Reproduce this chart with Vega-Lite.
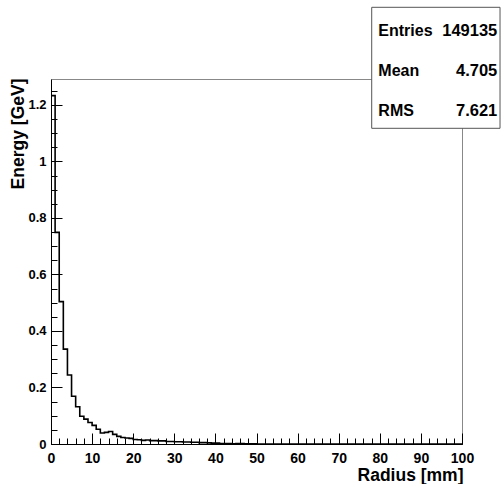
{
  "$schema": "https://vega.github.io/schema/vega-lite/v6.json",
  "width": 411,
  "height": 365,
  "autosize": {"type": "none"},
  "padding": {"left": 51, "top": 79, "right": 39, "bottom": 40},
  "background": "white",
  "config": {
    "view": {"stroke": "#888888", "strokeWidth": 1},
    "font": "Liberation Sans",
    "axis": {"grid": false, "domainColor": "black", "tickColor": "black", "labelColor": "black", "titleColor": "black", "labelFlush": false}
  },
  "datasets": {
    "hist": [
      {"radius": 0, "energy": 1.233}, {"radius": 1, "energy": 0.749}, {"radius": 2, "energy": 0.504}, {"radius": 3, "energy": 0.336},
      {"radius": 4, "energy": 0.244}, {"radius": 5, "energy": 0.169}, {"radius": 6, "energy": 0.132}, {"radius": 7, "energy": 0.098},
      {"radius": 8, "energy": 0.088}, {"radius": 9, "energy": 0.076}, {"radius": 10, "energy": 0.066}, {"radius": 11, "energy": 0.052},
      {"radius": 12, "energy": 0.039}, {"radius": 13, "energy": 0.041}, {"radius": 14, "energy": 0.044}, {"radius": 15, "energy": 0.034},
      {"radius": 16, "energy": 0.027}, {"radius": 17, "energy": 0.023}, {"radius": 18, "energy": 0.021}, {"radius": 19, "energy": 0.02},
      {"radius": 20, "energy": 0.016}, {"radius": 21, "energy": 0.015}, {"radius": 22, "energy": 0.013}, {"radius": 23, "energy": 0.014},
      {"radius": 24, "energy": 0.012}, {"radius": 25, "energy": 0.012}, {"radius": 26, "energy": 0.011}, {"radius": 27, "energy": 0.011},
      {"radius": 28, "energy": 0.009}, {"radius": 29, "energy": 0.009}, {"radius": 30, "energy": 0.008}, {"radius": 31, "energy": 0.008},
      {"radius": 32, "energy": 0.007}, {"radius": 33, "energy": 0.007}, {"radius": 34, "energy": 0.006}, {"radius": 35, "energy": 0.006},
      {"radius": 36, "energy": 0.005}, {"radius": 37, "energy": 0.005}, {"radius": 38, "energy": 0.004}, {"radius": 39, "energy": 0.003},
      {"radius": 40, "energy": 0.003}, {"radius": 41, "energy": 0.002}, {"radius": 42, "energy": 0.002}, {"radius": 43, "energy": 0.002},
      {"radius": 44, "energy": 0.001}, {"radius": 45, "energy": 0.002}, {"radius": 46, "energy": 0.002}, {"radius": 47, "energy": 0.001},
      {"radius": 48, "energy": 0.001}, {"radius": 49, "energy": 0.0005}, {"radius": 50, "energy": 0}, {"radius": 51, "energy": 0},
      {"radius": 52, "energy": 0}, {"radius": 53, "energy": 0}, {"radius": 54, "energy": 0}, {"radius": 55, "energy": 0},
      {"radius": 56, "energy": 0}, {"radius": 57, "energy": 0}, {"radius": 58, "energy": 0}, {"radius": 59, "energy": 0},
      {"radius": 60, "energy": 0}, {"radius": 61, "energy": 0}, {"radius": 62, "energy": 0}, {"radius": 63, "energy": 0},
      {"radius": 64, "energy": 0}, {"radius": 65, "energy": 0}, {"radius": 66, "energy": 0}, {"radius": 67, "energy": 0},
      {"radius": 68, "energy": 0}, {"radius": 69, "energy": 0}, {"radius": 70, "energy": 0}, {"radius": 71, "energy": 0},
      {"radius": 72, "energy": 0}, {"radius": 73, "energy": 0}, {"radius": 74, "energy": 0}, {"radius": 75, "energy": 0},
      {"radius": 76, "energy": 0}, {"radius": 77, "energy": 0}, {"radius": 78, "energy": 0}, {"radius": 79, "energy": 0},
      {"radius": 80, "energy": 0}, {"radius": 81, "energy": 0}, {"radius": 82, "energy": 0}, {"radius": 83, "energy": 0},
      {"radius": 84, "energy": 0}, {"radius": 85, "energy": 0}, {"radius": 86, "energy": 0}, {"radius": 87, "energy": 0},
      {"radius": 88, "energy": 0}, {"radius": 89, "energy": 0}, {"radius": 90, "energy": 0}, {"radius": 91, "energy": 0},
      {"radius": 92, "energy": 0}, {"radius": 93, "energy": 0}, {"radius": 94, "energy": 0}, {"radius": 95, "energy": 0},
      {"radius": 96, "energy": 0}, {"radius": 97, "energy": 0}, {"radius": 98, "energy": 0}, {"radius": 99, "energy": 0},
      {"radius": 100, "energy": 0}
    ],
    "stats": [
      {"stat": "Entries", "value": "149135"},
      {"stat": "Mean", "value": "4.705"},
      {"stat": "RMS", "value": "7.621"}
    ]
  },
  "resolve": {"axis": {"x": "independent", "y": "independent"}},
  "layer": [
    {
      "data": {"name": "hist"},
      "mark": {"type": "point", "opacity": 0},
      "encoding": {
        "x": {"field": "radius", "type": "quantitative", "scale": {"domain": [0, 100], "nice": false, "zero": false},
          "axis": {"orient": "bottom", "values": [0,2,4,6,8,10,12,14,16,18,20,22,24,26,28,30,32,34,36,38,40,42,44,46,48,50,52,54,56,58,60,62,64,66,68,70,72,74,76,78,80,82,84,86,88,90,92,94,96,98,100],
            "labels": false, "domain": false, "tickSize": -6, "title": null}},
        "y": {"field": "energy", "type": "quantitative", "scale": {"domain": [0, 1.292], "nice": false},
          "axis": {"orient": "left", "values": [0,0.05,0.1,0.15,0.2,0.25,0.3,0.35,0.4,0.45,0.5,0.55,0.6,0.65,0.7,0.75,0.8,0.85,0.9,0.95,1,1.05,1.1,1.15,1.2,1.25],
            "labels": false, "domain": false, "tickSize": -6, "title": null}}
      }
    },
    {
      "data": {"name": "hist"},
      "mark": {"type": "point", "opacity": 0},
      "encoding": {
        "x": {"field": "radius", "type": "quantitative",
          "axis": {"orient": "bottom", "values": [0,10,20,30,40,50,60,70,80,90,100], "labels": false, "domain": false, "tickSize": -11, "title": null}},
        "y": {"field": "energy", "type": "quantitative",
          "axis": {"orient": "left", "values": [0,0.2,0.4,0.6,0.8,1,1.2], "labels": false, "domain": false, "tickSize": -11, "title": null}}
      }
    },
    {
      "data": {"name": "hist"},
      "mark": {"type": "line", "interpolate": "step-after", "color": "black", "strokeWidth": 1.6},
      "encoding": {
        "x": {"field": "radius", "type": "quantitative",
          "axis": {"orient": "bottom", "values": [0,10,20,30,40,50,60,70,80,90,100], "ticks": false, "labelPadding": 7,
            "labelFontSize": 14, "labelFontWeight": "bold", "title": "Radius [mm]", "titleFontSize": 17.5, "titleFontWeight": "bold",
            "titleX": 412, "titleY": 36, "titleAlign": "right", "titleBaseline": "alphabetic", "domainWidth": 1}},
        "y": {"field": "energy", "type": "quantitative",
          "axis": {"orient": "left", "values": [0,0.2,0.4,0.6,0.8,1,1.2], "format": ".1~f", "ticks": false, "labelPadding": 5,
            "labelFontSize": 13, "labelFontWeight": "bold", "title": "Energy [GeV]", "titleFontSize": 17.5, "titleFontWeight": "bold",
            "titleX": -33, "titleY": -1, "titleAlign": "right", "titleBaseline": "middle", "titleAngle": 270, "domainWidth": 1}}
      }
    },
    {
      "data": {"values": [{}]},
      "mark": {"type": "rect", "fill": "white", "stroke": "#555555", "strokeWidth": 1, "clip": false},
      "encoding": {
        "x": {"datum": 78.03, "type": "quantitative", "axis": null},
        "x2": {"datum": 109.25},
        "y": {"datum": 1.5458, "type": "quantitative", "axis": null},
        "y2": {"datum": 1.1175}
      }
    },
    {
      "data": {"name": "stats"},
      "mark": {"type": "text", "align": "left", "baseline": "middle", "font": "Liberation Sans", "fontWeight": "bold", "fontSize": 16, "color": "black", "clip": false},
      "encoding": {
        "text": {"field": "stat"},
        "x": {"datum": 79.64, "type": "quantitative", "axis": null},
        "y": {"datum": 1.4609, "type": "quantitative", "axis": null},
        "yOffset": {"field": "stat", "type": "nominal", "scale": {"type": "point", "padding": 0, "domain": ["Entries", "Mean", "RMS"], "range": [0, 79.5]}}
      }
    },
    {
      "data": {"name": "stats"},
      "mark": {"type": "text", "align": "right", "baseline": "middle", "font": "Liberation Sans", "fontWeight": "bold", "fontSize": 16.5, "color": "black", "clip": false},
      "encoding": {
        "text": {"field": "value"},
        "x": {"datum": 108.59, "type": "quantitative", "axis": null},
        "y": {"datum": 1.4609, "type": "quantitative", "axis": null},
        "yOffset": {"field": "stat", "type": "nominal", "scale": {"type": "point", "padding": 0, "domain": ["Entries", "Mean", "RMS"], "range": [0, 79.5]}}
      }
    }
  ]
}
